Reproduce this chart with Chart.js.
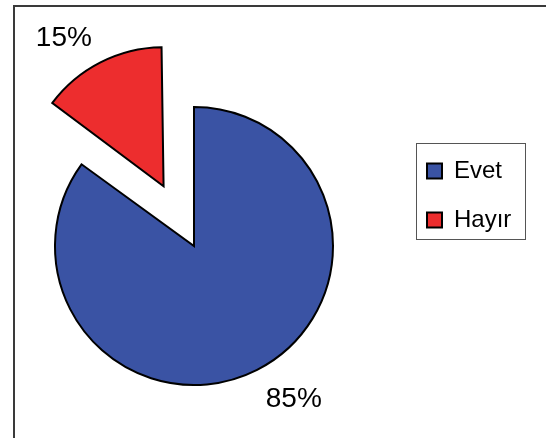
<!DOCTYPE html>
<html>
<head>
<meta charset="utf-8">
<script src="https://cdn.jsdelivr.net/npm/chart.js@4"></script>
<style>
    html, body { margin: 0; padding: 0; background: #fff; overflow: hidden; }
    #frame {
        position: absolute; left: 13px; top: 5px; width: 600px; height: 500px;
        border-left: 2px solid #3a3a3a; border-top: 2px solid #3a3a3a;
    }
    /* canvas starts a bit left of the page so the pie sits where the original has it */
    #wrap { position: absolute; left: -14px; top: 0; width: 560px; height: 438px; }
</style>
</head>
<body>
<div id="frame"></div>
<div id="wrap"><canvas id="pieChart" width="560" height="438"></canvas></div>
<script>
// --- DATA ---
const labels = ['Evet', 'Hayır'];
const values = [85, 15];
const sliceColors = ['#3A53A4', '#ED2D2E'];
const explode = [0, 67];   // how far each slice is pulled out (px)

// Chart.js enlarges an offset arc a little; undo that so both slices keep the same radius
const keepRadius = {
    id: 'keepRadius',
    afterDatasetsUpdate(chart) {
        chart.getDatasetMeta(0).data.forEach(arc => {
            const off = (arc.options.offset || 0) / 4;
            const fix = 1 - Math.sin(Math.min(Math.PI, arc.circumference));
            arc.outerRadius -= off * fix;
        });
    }
};

// percent labels just outside each slice
const pctLabels = {
    id: 'pctLabels',
    afterDatasetsDraw(chart) {
        const ctx = chart.ctx;
        const total = values.reduce((a, b) => a + b, 0);
        const fontSize = 28;
        ctx.save();
        ctx.font = fontSize + 'px "Liberation Sans", Arial, sans-serif';
        ctx.fillStyle = '#000';
        ctx.textBaseline = 'alphabetic';
        chart.getDatasetMeta(0).data.forEach((arc, i) => {
            const mid = (arc.startAngle + arc.endAngle) / 2;
            const off = (arc.options.offset || 0) / 4;
            const fix = 1 - Math.sin(Math.min(Math.PI, arc.circumference));
            const r = arc.outerRadius + off * fix;
            const d = off + r + 19;
            const ax = arc.x + Math.cos(mid) * d;
            const ay = arc.y + Math.sin(mid) * d;
            const text = Math.round(values[i] / total * 100) + '%';
            ctx.textAlign = Math.cos(mid) < 0 ? 'right' : 'left';
            const y = Math.sin(mid) < 0 ? ay : ay + fontSize * 0.716;
            ctx.fillText(text, ax, y);
        });
        ctx.restore();
    }
};

// thin box around the legend
const legendBox = {
    id: 'legendBox',
    afterDraw(chart) {
        const hb = chart.legend.legendHitBoxes;
        if (!hb || !hb.length) return;
        const last = hb[hb.length - 1];
        const left = hb[0].left - 11;
        const top = hb[0].top - 16;
        const right = left + 109;
        const bottom = last.top + last.height + 7;
        const ctx = chart.ctx;
        ctx.save();
        ctx.strokeStyle = '#555';
        ctx.lineWidth = 1;
        ctx.strokeRect(Math.round(left) + 0.5, Math.round(top) + 0.5, right - left, bottom - top);
        ctx.restore();
    }
};

Chart.defaults.color = '#000';
Chart.defaults.font.family = '"Liberation Sans", Arial, sans-serif';

const ctx = document.getElementById('pieChart').getContext('2d');
const pieChart = new Chart(ctx, {
    type: 'pie',
    data: {
        labels: labels,
        datasets: [{
            data: values,
            backgroundColor: sliceColors,
            borderColor: '#000',
            borderWidth: 2,
            borderJoinStyle: 'miter',
            offset: explode.map(v => v * 4)
        }]
    },
    options: {
        responsive: false,
        animation: false,
        radius: 139,
        cutout: '0%',
        layout: { padding: { left: 0, right: 34, top: 134, bottom: 80 } },
        plugins: {
            legend: {
                position: 'right',
                align: 'start',
                maxWidth: 110,
                labels: {
                    boxWidth: 15,
                    boxHeight: 15,
                    padding: 25,
                    font: { size: 24 },
                    color: '#000'
                }
            },
            tooltip: { enabled: false }
        }
    },
    plugins: [keepRadius, pctLabels, legendBox]
});
</script>
</body>
</html>
